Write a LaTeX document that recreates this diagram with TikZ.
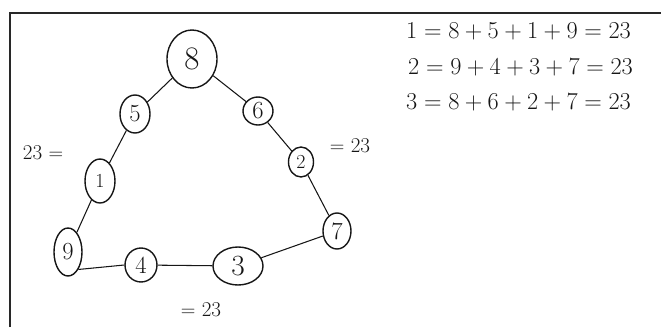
\documentclass[tikz,border=0pt]{standalone}
\usepackage{tikz}
\usetikzlibrary{shapes.geometric}
\definecolor{MSink}{RGB}{22,22,22}
\definecolor{MSframe}{RGB}{40,40,40}
\tikzset{
  bead/.style={ellipse,draw=MSink,line width=1.2pt,inner sep=0pt,text=MSink,
               font=\fontsize{21}{23}\selectfont},
  link/.style={draw=MSink,line width=0.9pt},
  sumtext/.style={text=MSink,font=\fontsize{18}{21}\selectfont,inner sep=0pt},
  eqline/.style={text=MSink,font=\fontsize{21}{25}\selectfont,inner sep=0pt,anchor=west}
}

\begin{document}
\begin{tikzpicture}[x=0.03cm,y=-0.03cm]
  \useasboundingbox (0,0) rectangle (661,327);
  \draw[MSframe,line width=1.7pt] (10,327) -- (10,13) -- (661,13);

  % beads round the triangle
  \node[bead,minimum width=1.5cm,minimum height=1.74cm,font=\fontsize{28}{30}\selectfont] (n8) at (192,59) {8};
  \node[bead,minimum width=0.9cm,minimum height=1.14cm] (n5) at (135,114) {5};
  \node[bead,minimum width=0.9cm,minimum height=0.84cm] (n6) at (258,111) {6};
  \node[bead,minimum width=0.75cm,minimum height=0.9cm,font=\fontsize{17}{19}\selectfont] (n2) at (301,162) {2};
  \node[bead,minimum width=0.9cm,minimum height=1.32cm,font=\fontsize{17}{19}\selectfont] (n1) at (100,181) {1};
  \node[bead,minimum width=0.84cm,minimum height=1.44cm] (n9) at (68,252) {9};
  \node[bead,minimum width=0.96cm,minimum height=1.02cm] (n4) at (141,265) {4};
  \node[bead,minimum width=1.5cm,minimum height=1.14cm,font=\fontsize{25}{27}\selectfont] (n3) at (238,266) {3};
  \node[bead,minimum width=0.84cm,minimum height=1.08cm] (n7) at (337,231) {7};

  \draw[link] (n8) -- (n5);
  \draw[link] (n5) -- (n1);
  \draw[link] (n1) -- (n9);
  \draw[link] (n9.south east) -- (n4.west);
  \draw[link] (n4) -- (n3);
  \draw[link] (n3) -- (n7);
  \draw[link] (n7) -- (n2);
  \draw[link] (n2) -- (n6);
  \draw[link] (n6) -- (n8);

  % side sums
  \node[sumtext] (sleft) at (43,153) {23 $=$};
  \node[sumtext] (sright) at (350,146) {$=$ 23};
  \node[sumtext] (sbottom) at (201,310) {$=$ 23};

  % the three checks
  \node[eqline] (eq1) at (406,31) {$1=8+5+1+9 = 23$};
  \node[eqline] (eq2) at (408,67) {$2=9+4+3+7 = 23$};
  \node[eqline] (eq3) at (406,102) {$3=8+6+2+7 = 23$};
\end{tikzpicture}
\end{document}
